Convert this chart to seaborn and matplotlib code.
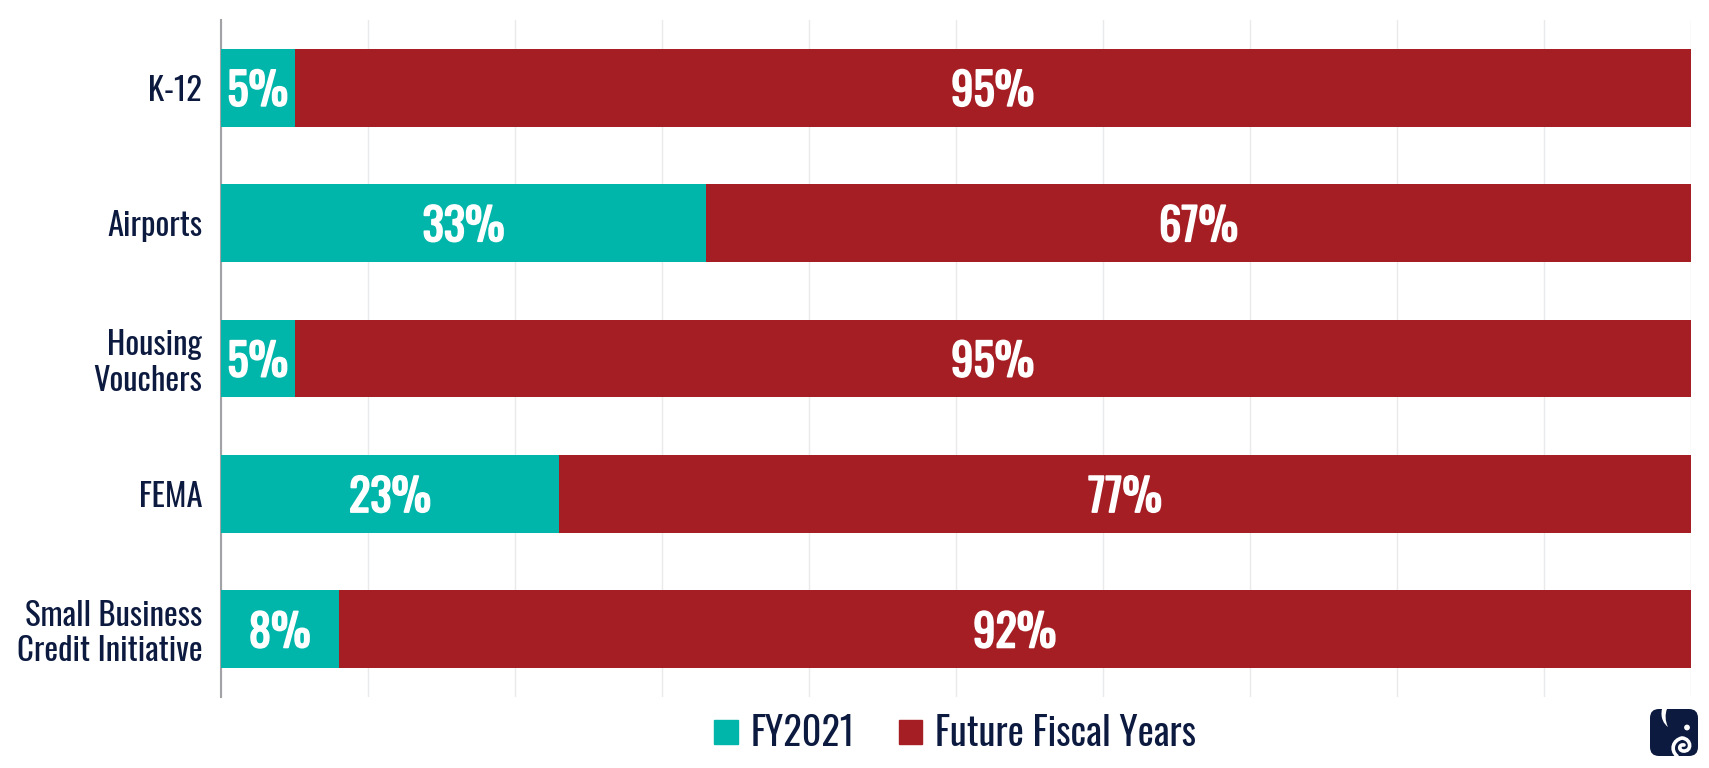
import matplotlib
matplotlib.use("Agg")
import matplotlib.pyplot as plt
import matplotlib.patheffects as pe
import seaborn as sns
from matplotlib.patches import FancyBboxPatch, Circle, PathPatch, Rectangle
from matplotlib.path import Path

categories = ["K-12", "Airports", "Housing\nVouchers", "FEMA", "Small Business\nCredit Initiative"]
fy2021 = [5, 33, 5, 23, 8]
future_years = [95, 67, 95, 77, 92]
grid_ticks = [0, 10, 20, 30, 40, 50, 60, 70, 80, 90, 100]

TEAL = "#00b5aa"
RED = "#a51e24"
NAVY = "#0c1a40"

sns.set_theme(style="white")
plt.rcParams["font.family"] = ["Oswald", "Liberation Sans", "DejaVu Sans"]

fig = plt.figure(figsize=(17.09, 7.68), dpi=100)
ax = fig.add_axes([221 / 1709, 1 - 697 / 768, 1470 / 1709, 677 / 768])

sns.barplot(x=fy2021, y=categories, color=TEAL, width=0.575, saturation=1, linewidth=0, ax=ax, zorder=3)
sns.barplot(x=future_years, y=categories, left=fy2021, color=RED, width=0.575, saturation=1, linewidth=0, ax=ax, zorder=3)

ax.set_xlim(0, 100)
ax.set_ylim(4.5, -0.5)
ax.set_xlabel("")
ax.set_ylabel("")
ax.set_xticks(grid_ticks)
ax.set_xticklabels([])
ax.tick_params(axis="both", length=0)
ax.grid(axis="x", color="#e8eaec", lw=1, zorder=0)
ax.tick_params(axis="y", labelsize=23.5, labelcolor=NAVY, pad=13.5)
for lab in ax.get_yticklabels():
    lab.set_linespacing(1.12)
sns.despine(ax=ax, top=True, right=True, bottom=True)
ax.spines["left"].set_color("#a0a2a5")
ax.spines["left"].set_linewidth(1.5)

stroke = [pe.withStroke(linewidth=1.2, foreground="white")]
for i, (a, b) in enumerate(zip(fy2021, future_years)):
    for x, v in [(a / 2, a), (a + b / 2, b)]:
        ax.annotate(f"{v}%", (x, i), xytext=(0, -3), textcoords="offset points", color="white", fontsize=32,
                    ha="center", va="center", zorder=4, path_effects=stroke)

handles = [Rectangle((0, 0), 1, 1, color=TEAL), Rectangle((0, 0), 1, 1, color=RED)]
fig.legend(handles, ["FY2021", "Future Fiscal Years"], loc="center", bbox_to_anchor=(955 / 1709, 1 - 733 / 768),
           ncol=2, frameon=False, fontsize=27.5, labelcolor=NAVY, handlelength=0.62, handleheight=0.62,
           handletextpad=0.33, columnspacing=1.15)

# elephant logo, bottom right corner
logo = fig.add_axes([1640 / 1709, 0, 69 / 1709, 68 / 768])
logo.set_xlim(0, 69)
logo.set_ylim(68, 0)
logo.axis("off")
logo.add_patch(FancyBboxPatch((10, 9), 48, 47, boxstyle="round,pad=0,rounding_size=9", fc=NAVY, ec="none"))
logo.add_patch(PathPatch(Path([(22, 9), (20, 18), (24, 24), (28, 27), (25, 21), (25, 14), (27, 9), (22, 9)],
                             [1, 4, 4, 4, 4, 4, 4, 79]), fc="white", ec="none"))
logo.add_patch(Circle((47, 27.5), 2.9, fc="white", ec="none"))
logo.add_patch(PathPatch(Path([(37, 56), (30, 50), (33, 40), (42, 38), (52, 39), (52, 52), (43, 51), (38, 50), (39, 44), (44, 45)],
                             [1, 4, 4, 4, 4, 4, 4, 4, 4, 4]), fc="none", ec="white", lw=2.6, capstyle="round"))

fig.savefig("out.png", dpi=100)
